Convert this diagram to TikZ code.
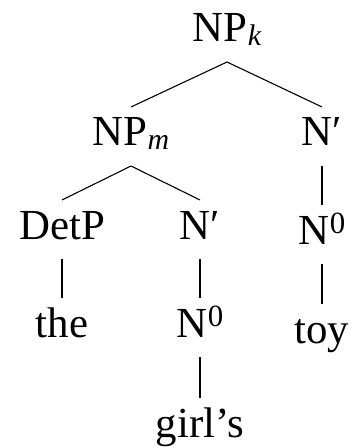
\documentclass[tikz,border=0pt]{standalone}
\usepackage{fontspec}
\setmainfont{Liberation Serif}
\newcommand{\sbk}[1]{\raisebox{-4bp}{\fontsize{30}{30}\selectfont\itshape #1}}
\newcommand{\spz}[1]{\raisebox{11bp}{\fontsize{31}{31}\selectfont #1}}
\begin{document}
\begin{tikzpicture}[x=1bp,y=-1bp,
  lab/.style={anchor=base,inner sep=0pt,outer sep=0pt,text height=39bp,text depth=20bp,
    font=\fontsize{43}{50}\selectfont},
  edge/.style={line width=1.1bp,line cap=butt}]
\useasboundingbox (0,0) rectangle (353,447);
\node[lab] (npk) at (227,42) {NP\sbk{k}};
\node[lab] (npm) at (131,146) {NP\sbk{m}};
\node[lab] (nbr) at (322,146) {N′};
\node[lab] (det) at (62,239) {DetP};
\node[lab] (nbm) at (200,239) {N′};
\node[lab] (n0r) at (322,244) {N\spz{0}};
\node[lab] (the) at (62,337) {the};
\node[lab] (n0m) at (200,337) {N\spz{0}};
\node[lab] (toy) at (322,343) {toy};
\node[lab] (girl) at (200,437) {girl’s};
\draw[edge] (npk.south) -- (npm.north);
\draw[edge] (npk.south) -- (nbr.north);
\draw[edge] (npm.south) -- (det.north);
\draw[edge] (npm.south) -- (nbm.north);
\draw[edge] (nbr.south) -- (n0r.north);
\draw[edge] (det.south) -- (the.north);
\draw[edge] (nbm.south) -- (n0m.north);
\draw[edge] (n0r.south) -- (toy.north);
\draw[edge] (n0m.south) -- (girl.north);
\end{tikzpicture}
\end{document}
